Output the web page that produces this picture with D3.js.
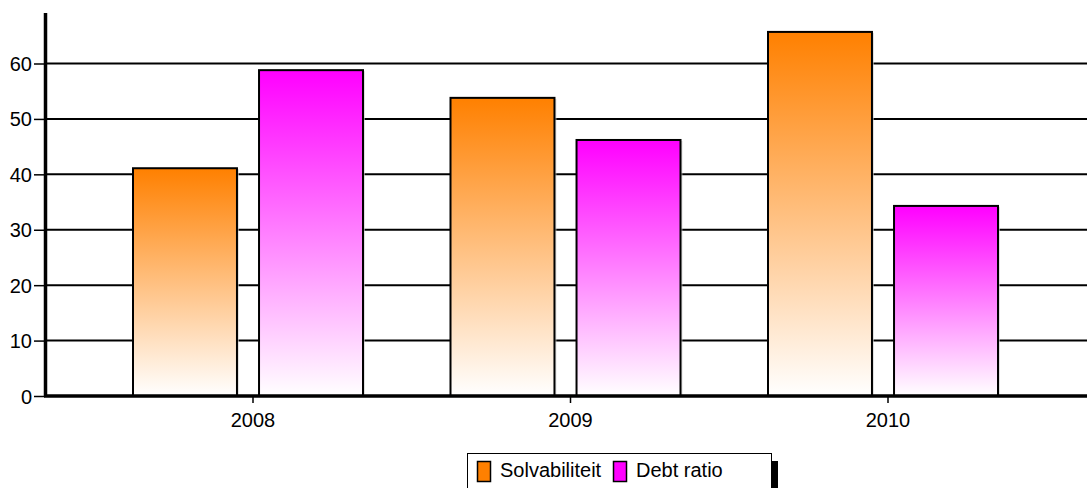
<!DOCTYPE html>
<html><head><meta charset="utf-8">
<script src="https://cdn.jsdelivr.net/npm/d3@7"></script>
<style>body{margin:0;background:#fff;}svg{display:block;font-family:"Liberation Sans",Arial,sans-serif;}</style>
</head><body><svg id="c" width="1087" height="488"></svg>
<script>
const categories = ["2008","2009","2010"];
const seriesNames = ["Solvabiliteit","Debt ratio"];
const solvabiliteit = [41.1, 53.8, 65.7];
const debtRatio = [58.8, 46.2, 34.3];
const yTicks = [0,10,20,30,40,50,60];
const colors = ["#ff8000","#ff00ff"];

const svg = d3.select("#c");
const y = d3.scaleLinear().domain([0,60]).range([396,63.5]);
const x0 = d3.scaleBand().domain(categories).range([94.25,1046.75]);
const x1 = d3.scaleBand().domain(seriesNames).range([-120,110]).paddingInner(0.175);
const values = [solvabiliteit, debtRatio];

const defs = svg.append("defs");
colors.forEach((c,i)=>{
  const g = defs.append("linearGradient").attr("id","g"+i).attr("x1",0).attr("y1",0).attr("x2",0).attr("y2",1);
  g.append("stop").attr("offset","0%").attr("stop-color",c);
  g.append("stop").attr("offset","100%").attr("stop-color","#fff");
});

// gridlines
svg.append("g").selectAll("line").data(yTicks.filter(d=>d>0)).join("line")
  .attr("x1",45).attr("x2",1087).attr("y1",d=>y(d)).attr("y2",d=>y(d))
  .attr("stroke","#000").attr("stroke-width",2);

// y axis
const ya = svg.append("g").attr("transform","translate(45,0)")
  .call(d3.axisLeft(y).tickValues(yTicks).tickSize(11).tickPadding(2));
ya.select(".domain").remove();
ya.attr("font-size",null).attr("font-family",null);
ya.selectAll(".tick line").attr("stroke","#000").attr("stroke-width",1.5);
ya.selectAll("text").style("font-size","20px").attr("fill","#000").attr("dy","0.35em");

// bars
categories.forEach((cat,ci)=>{
  const g = svg.append("g").attr("transform",`translate(${x0(cat)+x0.bandwidth()/2},0)`);
  seriesNames.forEach((s,si)=>{
    const v = values[si][ci];
    g.append("rect").attr("x",x1(s)+2).attr("y",y(v)+1).attr("width",x1.bandwidth()).attr("height",y(0)-y(v))
      .attr("fill","#ccc").attr("opacity",0.6);
    g.append("rect").attr("x",x1(s)).attr("y",y(v)).attr("width",x1.bandwidth()).attr("height",y(0)-y(v))
      .attr("fill",`url(#g${si})`).attr("stroke","#000").attr("stroke-width",2);
  });
});

// x axis
const xa = svg.append("g").attr("transform","translate(0,396)")
  .call(d3.axisBottom(x0).tickSize(7).tickPadding(8).tickSizeOuter(0));
xa.select(".domain").remove();
xa.attr("font-size",null).attr("font-family",null);
xa.selectAll(".tick").attr("transform",d=>`translate(${x0(d)+x0.bandwidth()/2},0)`);
xa.selectAll(".tick line").attr("stroke","#000").attr("stroke-width",1.5);
xa.selectAll("text").style("font-size","20px").attr("fill","#000").attr("y",31).attr("dy",null);

svg.append("line").attr("x1",44).attr("x2",1087).attr("y1",396).attr("y2",396).attr("stroke","#000").attr("stroke-width",3.5);
svg.append("line").attr("x1",45.5).attr("x2",45.5).attr("y1",13).attr("y2",397).attr("stroke","#000").attr("stroke-width",3.5);

// legend
const lg = svg.append("g");
lg.append("rect").attr("x",771).attr("y",461).attr("width",7).attr("height",30).attr("fill","#000");
lg.append("rect").attr("x",467.5).attr("y",453.5).attr("width",304).attr("height",40).attr("fill","#fff").attr("stroke","#000").attr("stroke-width",1);
const items = [{x:477.5,tx:500},{x:613.5,tx:636}];
seriesNames.forEach((s,i)=>{
  lg.append("rect").attr("x",items[i].x).attr("y",461.5).attr("width",13).attr("height",20)
    .attr("fill",colors[i]).attr("stroke","#000").attr("stroke-width",1.5);
  lg.append("text").attr("x",items[i].tx).attr("y",477).style("font-size","20px").attr("fill","#000").text(s);
});
</script></body></html>
